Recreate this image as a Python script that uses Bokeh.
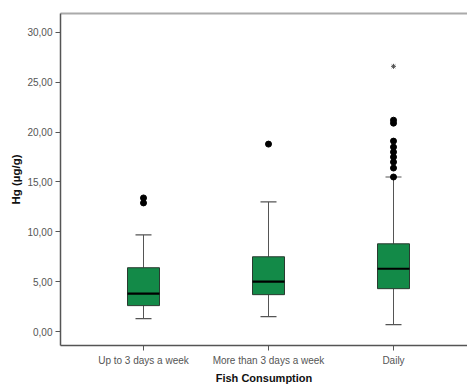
from bokeh.plotting import figure
from bokeh.models import FixedTicker, LinearAxis, Range1d
from bokeh.embed import file_html
from bokeh.resources import INLINE

# ---- data ----
categories = ["Up to 3 days a week", "More than 3 days a week", "Daily"]
lower_whisker = [1.3, 1.5, 0.7]
q1 = [2.6, 3.7, 4.3]
median = [3.8, 5.0, 6.3]
q3 = [6.4, 7.5, 8.8]
upper_whisker = [9.7, 13.0, 15.5]
outliers = [[13.4, 12.9], [18.8], [21.2, 20.9, 19.1, 18.5, 18.0, 17.5, 17.0, 16.4, 15.5]]
extremes = [[], [], [26.6]]
y_ticks = [0, 5, 10, 15, 20, 25, 30]

xs = [i + 1 for i in range(len(categories))]
box_w = 0.256
cap_w = 0.128

p = figure(width=467, height=389, output_backend="svg", toolbar_location=None,
           x_range=Range1d(0.336, 3.592), y_range=Range1d(-1.4, 31.9),
           min_border_left=60, min_border_right=0, min_border_top=13, min_border_bottom=44)
p.outline_line_color = None
p.grid.visible = False
p.background_fill_color = "white"

# whiskers
p.segment(x0=xs, x1=xs, y0=q3, y1=upper_whisker, line_color="#555555", line_width=1)
p.segment(x0=xs, x1=xs, y0=lower_whisker, y1=q1, line_color="#555555", line_width=1)
cx0 = [x - cap_w / 2 for x in xs]
cx1 = [x + cap_w / 2 for x in xs]
p.segment(x0=cx0, x1=cx1, y0=upper_whisker, y1=upper_whisker, line_color="#555555", line_width=1.2)
p.segment(x0=cx0, x1=cx1, y0=lower_whisker, y1=lower_whisker, line_color="#555555", line_width=1.2)

# boxes
p.vbar(x=xs, width=box_w, bottom=q1, top=q3, fill_color="#138a48",
       line_color="#2a3a30", line_width=1)
bx0 = [x - box_w / 2 for x in xs]
bx1 = [x + box_w / 2 for x in xs]
p.segment(x0=bx0, x1=bx1, y0=median, y1=median, line_color="black", line_width=2.2)

# outliers
ox, oy = [], []
for x, vals in zip(xs, outliers):
    ox += [x] * len(vals)
    oy += vals
p.scatter(ox, oy, size=6, marker="circle", fill_color="black", line_color="black")
ex, ey = [], []
for x, vals in zip(xs, extremes):
    ex += [x] * len(vals)
    ey += vals
p.scatter(ex, ey, size=5, marker="asterisk", line_color="#555555", line_width=1)

# axes
font = "Liberation Sans"
p.xaxis.ticker = FixedTicker(ticks=xs)
p.xaxis.major_label_overrides = {x: c for x, c in zip(xs, categories)}
p.yaxis.ticker = FixedTicker(ticks=y_ticks)
p.yaxis.major_label_overrides = {t: f"{t:.2f}".replace(".", ",") for t in y_ticks}
for ax in (p.xaxis, p.yaxis):
    ax.minor_tick_line_color = None
    ax.major_tick_in = 0
    ax.major_tick_out = 5
    ax.major_tick_line_color = "#555555"
    ax.axis_line_color = "#555555"
    ax.axis_line_width = 1.5
    ax.major_label_text_font = font
    ax.major_label_text_font_size = "10px"
    ax.major_label_text_color = "#555555"
    ax.axis_label_text_font = font
    ax.axis_label_text_font_style = "bold"
    ax.axis_label_text_color = "#111111"
p.xaxis.axis_label = "Fish Consumption"
p.xaxis.axis_label_text_font_size = "11px"
p.xaxis.major_label_standoff = 4
p.xaxis.axis_label_standoff = 3
p.yaxis.axis_label = "Hg (µg/g)"
p.yaxis.axis_label_text_font_size = "11.5px"
p.yaxis.major_label_standoff = 3
p.yaxis.axis_label_standoff = 2

top_axis = LinearAxis(ticker=FixedTicker(ticks=[2]), major_label_overrides={2: ""},
                      major_label_text_font_size="1px",
                      major_tick_out=0, major_tick_in=0, major_label_standoff=0,
                      minor_tick_line_color=None,
                      axis_line_color="#aaaaaa", axis_line_width=2)
p.add_layout(top_axis, "above")

open("out.html", "w").write(file_html(p, INLINE))
